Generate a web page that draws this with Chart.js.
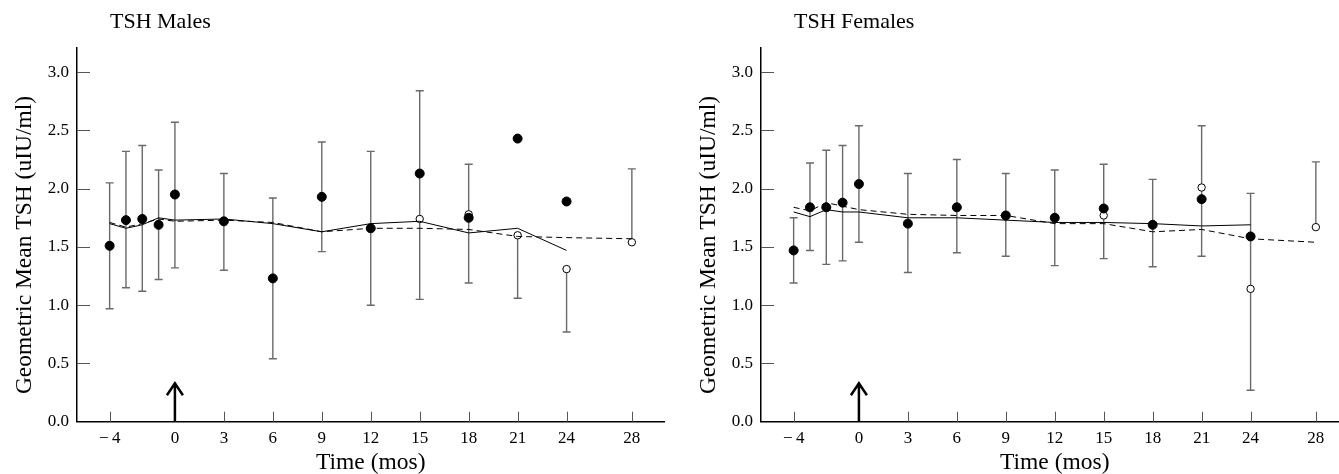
<!DOCTYPE html>
<html>
<head>
<meta charset="utf-8">
<script src="https://cdn.jsdelivr.net/npm/chart.js@4"></script>
<style>
  html, body { margin: 0; padding: 0; background: #fff; overflow: hidden; width: 1339px; height: 474px; }
  canvas { position: absolute; top: 0; }
  #malesChart { left: 0; }
  #femalesChart { left: 684px; }
</style>
</head>
<body>
<canvas id="malesChart" width="670" height="474"></canvas>
<canvas id="femalesChart" width="670" height="474"></canvas>
<script>
const xTicks = [-4, 0, 3, 6, 9, 12, 15, 18, 21, 24, 28];
const yTicks = [0, 0.5, 1.0, 1.5, 2.0, 2.5, 3.0];

const allMonths = [-4, -3, -2, -1, 0, 3, 6, 9, 12, 15, 18, 21, 24, 28];
const studyMonths = [-4, -3, -2, -1, 0, 3, 6, 9, 12, 15, 18, 21, 24];

// males
const malesFilled = [1.51, 1.73, 1.74, 1.69, 1.95, 1.72, 1.23, 1.93, 1.66, 2.13, 1.75, 2.43, 1.89];
const malesOpenMonths = [15, 18, 21, 24, 28];
const malesOpen = [1.74, 1.78, 1.60, 1.31, 1.54];
const malesSolid = [1.70, 1.66, 1.69, 1.75, 1.73, 1.74, 1.70, 1.63, 1.70, 1.72, 1.62, 1.66, 1.47];
const malesDashed = [1.71, 1.67, 1.70, 1.74, 1.72, 1.73, 1.71, 1.63, 1.66, 1.66, 1.65, 1.59, 1.58, 1.57];
const malesLow = [0.97, 1.15, 1.12, 1.22, 1.32, 1.30, 0.54, 1.46, 1.00, 1.05, 1.19, 1.06, 0.77, 1.54];
const malesHigh = [2.05, 2.32, 2.37, 2.16, 2.57, 2.13, 1.92, 2.40, 2.32, 2.84, 2.21, 1.60, 1.31, 2.17];

// females
const femalesFilled = [1.47, 1.84, 1.84, 1.88, 2.04, 1.70, 1.84, 1.77, 1.75, 1.83, 1.69, 1.91, 1.59];
const femalesOpenMonths = [15, 21, 24, 28];
const femalesOpen = [1.77, 2.01, 1.14, 1.67];
const femalesSolid = [1.80, 1.76, 1.82, 1.80, 1.80, 1.75, 1.75, 1.73, 1.71, 1.71, 1.70, 1.68, 1.69];
const femalesDashed = [1.84, 1.81, 1.88, 1.85, 1.82, 1.78, 1.77, 1.77, 1.70, 1.70, 1.63, 1.65, 1.57, 1.54];
const femalesLow = [1.19, 1.47, 1.35, 1.38, 1.54, 1.28, 1.45, 1.42, 1.34, 1.40, 1.33, 1.42, 0.27, 1.67];
const femalesHigh = [1.75, 2.22, 2.33, 2.37, 2.54, 2.13, 2.25, 2.13, 2.16, 2.21, 2.08, 2.54, 1.96, 2.23];

const FONT = "'Liberation Serif', 'Times New Roman', serif";

function pairs(xs, ys) {
  return xs.map((x, i) => ({ x: x, y: ys[i] }));
}

// error bars, inward tick marks, the arrow at month 0 and the text labels
function extrasPlugin(title, low, high) {
  return {
    id: 'extras',
    beforeDatasetsDraw(chart) {
      const ctx = chart.ctx;
      const xs = chart.scales.x, ys = chart.scales.y;
      const area = chart.chartArea;
      ctx.save();
      ctx.strokeStyle = '#555';
      ctx.lineWidth = 1;
      ctx.beginPath();
      yTicks.forEach(v => {
        if (v === 0) return;
        const y = Math.round(ys.getPixelForValue(v)) + 0.5;
        ctx.moveTo(area.left, y);
        ctx.lineTo(area.left + 13, y);
      });
      xTicks.forEach(v => {
        const x = Math.round(xs.getPixelForValue(v)) + 0.5;
        ctx.moveTo(x, area.bottom);
        ctx.lineTo(x, area.bottom - 10);
      });
      ctx.stroke();

      ctx.strokeStyle = '#6a6a6a';
      ctx.lineWidth = 1.4;
      ctx.beginPath();
      allMonths.forEach((m, i) => {
        const x = xs.getPixelForValue(m);
        const y1 = ys.getPixelForValue(low[i]);
        const y2 = ys.getPixelForValue(high[i]);
        ctx.moveTo(x, y1); ctx.lineTo(x, y2);
        ctx.moveTo(x - 4, y1); ctx.lineTo(x + 4, y1);
        ctx.moveTo(x - 4, y2); ctx.lineTo(x + 4, y2);
      });
      ctx.stroke();
      ctx.restore();
    },
    afterDraw(chart) {
      const ctx = chart.ctx;
      const xs = chart.scales.x, ys = chart.scales.y;
      ctx.save();
      const ax = xs.getPixelForValue(0);
      const top = ys.getPixelForValue(0.33);
      ctx.strokeStyle = '#000';
      ctx.lineWidth = 2.5;
      ctx.beginPath();
      ctx.moveTo(ax, ys.getPixelForValue(0));
      ctx.lineTo(ax, top);
      ctx.moveTo(ax - 8, top + 12);
      ctx.lineTo(ax, top);
      ctx.lineTo(ax + 8, top + 12);
      ctx.stroke();

      ctx.fillStyle = '#000';
      ctx.font = '22px ' + FONT;
      ctx.textAlign = 'left';
      ctx.textBaseline = 'middle';
      ctx.fillText(title, 110, 22);

      ctx.font = '23.5px ' + FONT;
      ctx.textAlign = 'center';
      ctx.translate(25, 245);
      ctx.rotate(-Math.PI / 2);
      ctx.fillText('Geometric Mean TSH (uIU/ml)', 0, 0);
      ctx.restore();
    }
  };
}

function makeChart(id, title, filled, openMonths, open, solid, dashed, low, high) {
  const ctx = document.getElementById(id).getContext('2d');
  return new Chart(ctx, {
    type: 'line',
    data: {
      datasets: [
        { data: pairs(studyMonths, solid), borderColor: '#000', borderWidth: 1, pointRadius: 0, tension: 0, fill: false },
        { data: pairs(allMonths, dashed), borderColor: '#000', borderWidth: 1, borderDash: [6, 4], pointRadius: 0, tension: 0, fill: false },
        { data: pairs(studyMonths, filled), showLine: false, pointRadius: 4.5, pointBackgroundColor: '#000', pointBorderColor: '#000', pointBorderWidth: 1 },
        { data: pairs(openMonths, open), showLine: false, pointRadius: 3.7, pointBackgroundColor: '#fff', pointBorderColor: '#000', pointBorderWidth: 1 }
      ]
    },
    options: {
      responsive: false,
      animation: false,
      layout: { padding: { top: 47.7, right: 4.3, left: 0, bottom: 0 } },
      plugins: { legend: { display: false }, tooltip: { enabled: false } },
      scales: {
        x: {
          type: 'linear',
          min: -6,
          max: 30,
          afterBuildTicks: s => { s.ticks = xTicks.map(v => ({ value: v })); },
          afterFit: s => { s.height = 52.3; },
          grid: { display: false, drawTicks: false },
          border: { display: true, color: '#000', width: 1.5 },
          ticks: {
            color: '#000',
            padding: 7,
            maxRotation: 0,
            autoSkip: false,
            font: { family: FONT, size: 17 },
            callback: v => v < 0 ? '\u2212\u2009' + (-v) : String(v)
          },
          title: { display: true, text: 'Time (mos)', color: '#000', font: { family: FONT, size: 23.5 }, padding: { top: 0, bottom: -3 } }
        },
        y: {
          min: 0,
          max: 3.21,
          afterBuildTicks: s => { s.ticks = yTicks.map(v => ({ value: v })); },
          afterFit: s => { s.width = 77; },
          grid: { display: false, drawTicks: false },
          border: { display: true, color: '#000', width: 1.5 },
          ticks: {
            color: '#000',
            padding: 8,
            font: { family: FONT, size: 17 },
            callback: v => v.toFixed(1)
          }
        }
      }
    },
    plugins: [extrasPlugin(title, low, high)]
  });
}

makeChart('malesChart', 'TSH Males', malesFilled, malesOpenMonths, malesOpen, malesSolid, malesDashed, malesLow, malesHigh);
makeChart('femalesChart', 'TSH Females', femalesFilled, femalesOpenMonths, femalesOpen, femalesSolid, femalesDashed, femalesLow, femalesHigh);
</script>
</body>
</html>
